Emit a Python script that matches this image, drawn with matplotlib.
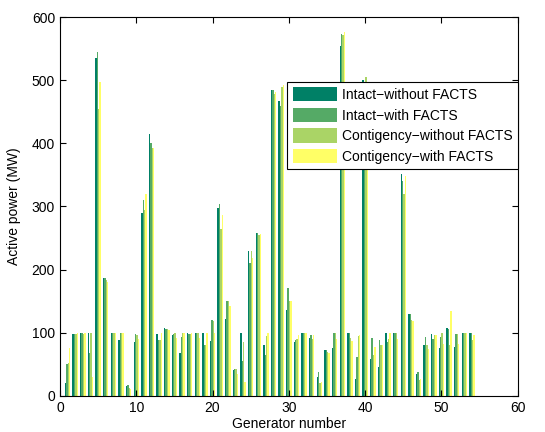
import numpy as np
import matplotlib
matplotlib.use('Agg')
import matplotlib.pyplot as plt

plt.rcParams['font.family'] = ['Liberation Sans', 'DejaVu Sans']

# generator numbers 1..54
generators = list(range(1, 55))

# active power (MW) per generator
intact_without = [20, 98, 100, 100, 535, 186, 100, 88, 15, 85,
                  290, 415, 98, 107, 97, 68, 100, 100, 100, 87,
                  298, 122, 41, 100, 230, 258, 80, 485, 468, 136,
                  85, 100, 92, 30, 73, 76, 555, 100, 27, 500,
                  58, 46, 100, 100, 352, 130, 35, 80, 98, 76,
                  107, 78, 100, 100]
intact_with = [50, 98, 100, 68, 545, 186, 100, 100, 17, 98,
               310, 400, 88, 106, 98, 93, 98, 100, 80, 120,
               304, 150, 42, 55, 210, 258, 65, 485, 460, 170,
               88, 100, 97, 37, 72, 100, 573, 100, 62, 380,
               91, 88, 85, 100, 340, 130, 38, 93, 90, 93,
               106, 98, 100, 100]
contingency_without = [52, 98, 98, 100, 455, 183, 100, 100, 12, 97,
                       295, 392, 88, 106, 100, 100, 98, 100, 80, 118,
                       265, 150, 42, 85, 230, 255, 95, 478, 490, 150,
                       90, 100, 90, 20, 70, 100, 572, 92, 95, 505,
                       65, 80, 90, 100, 320, 120, 25, 80, 96, 100,
                       80, 98, 100, 88]
contingency_with = [75, 100, 100, 30, 498, 180, 100, 100, 10, 90,
                    320, 392, 100, 104, 92, 100, 100, 92, 100, 100,
                    287, 142, 35, 22, 218, 257, 100, 482, 493, 150,
                    97, 100, 96, 21, 68, 90, 576, 86, 96, 360,
                    77, 81, 100, 90, 348, 118, 26, 74, 96, 82,
                    135, 82, 100, 97]

series = [intact_without, intact_with, contingency_without, contingency_with]
labels = ['Intact\u2212without FACTS', 'Intact\u2212with FACTS',
          'Contigency\u2212without FACTS', 'Contigency\u2212with FACTS']
colors = plt.cm.summer(np.linspace(0, 1, 4))

fig = plt.figure(figsize=(5.45, 4.32), dpi=100)
ax = fig.add_axes([0.110, 0.084, 0.840, 0.876])

x = np.array(generators)
w = 0.18
for i, (vals, lab, col) in enumerate(zip(series, labels, colors)):
    ax.bar(x + (i - 1.5) * w, vals, width=w, color=col, label=lab, linewidth=0)

ax.set_xlim(0, 60)
ax.set_ylim(0, 600)
ax.set_xticks(range(0, 61, 10))
ax.set_yticks(range(0, 601, 100))
ax.tick_params(direction='in', top=True, right=True, labelsize=10, length=4)
ax.set_xlabel('Generator number', fontsize=10, labelpad=2)
ax.set_ylabel('Active power (MW)', fontsize=10, labelpad=8)

leg = ax.legend(loc='upper right', bbox_to_anchor=(1.0, 0.83), borderaxespad=0,
                fontsize=10, fancybox=False, framealpha=1, edgecolor='black',
                handlelength=3.2, handleheight=1.2, labelspacing=0.42,
                handletextpad=0.3, borderpad=0.4)
leg.get_frame().set_linewidth(0.8)

fig.savefig('out.png', dpi=100, facecolor='white')
